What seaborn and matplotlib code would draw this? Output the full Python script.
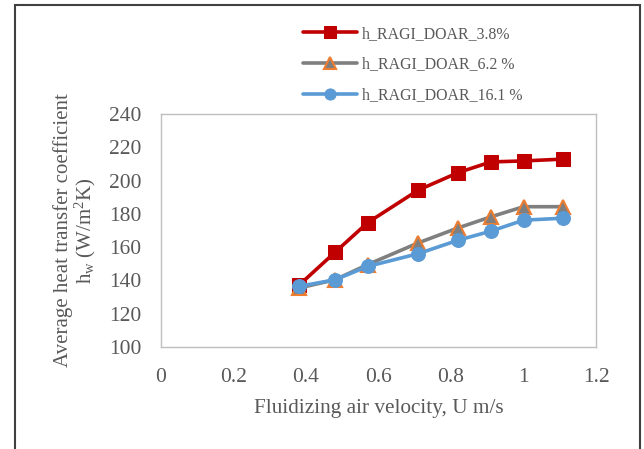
import matplotlib
matplotlib.use("Agg")
import matplotlib.pyplot as plt
import seaborn as sns
import pandas as pd
from matplotlib.patches import Rectangle

velocity = [0.38, 0.48, 0.57, 0.71, 0.82, 0.91, 1.00, 1.11]
h_38 = [137.0, 156.9, 174.7, 194.3, 204.8, 211.2, 211.8, 212.9]
h_62 = [135.4, 140.4, 149.5, 162.6, 171.6, 178.2, 184.3, 184.3]
h_161 = [136.4, 140.4, 148.4, 156.1, 164.2, 169.6, 176.2, 177.4]
labels = ["h_RAGI_DOAR_3.8%", "h_RAGI_DOAR_6.2 %", "h_RAGI_DOAR_16.1 %"]
xticks = [0, 0.2, 0.4, 0.6, 0.8, 1, 1.2]
yticks = [100, 120, 140, 160, 180, 200, 220, 240]

sns.set_theme(style="white")
plt.rcParams["font.family"] = ["Liberation Serif", "DejaVu Serif"]
plt.rcParams["mathtext.default"] = "regular"

fig = plt.figure(figsize=(6.44, 4.49), dpi=100)
ax = fig.add_axes([161/644, 1-347/449, 435/644, 233/449])

styles = [
    dict(color="#C00000", marker="s", markersize=10, markerfacecolor="#C00000", markeredgecolor="#C00000"),
    dict(color="#7F7F7F", marker="^", markersize=10, markerfacecolor="#7F7F7F", markeredgecolor="#ED7D31", markeredgewidth=1.5),
    dict(color="#5B9BD5", marker="o", markersize=10, markerfacecolor="#5B9BD5", markeredgecolor="#5B9BD5"),
]
for vals, lab, st in zip([h_38, h_62, h_161], labels, styles):
    df = pd.DataFrame({"U": velocity, "h": vals})
    sns.lineplot(data=df, x="U", y="h", ax=ax, label=lab, linewidth=2.6, **st)

ax.set_xlim(0, 1.2)
ax.set_ylim(100, 240)
ax.set_xticks(xticks)
ax.set_xticklabels([f"{t:g}" for t in xticks])
ax.set_yticks(yticks)
ax.tick_params(axis="both", length=0, labelsize=15.5, labelcolor="#595959")
ax.tick_params(axis="x", pad=15)
ax.tick_params(axis="y", pad=14)
for s in ax.spines.values():
    s.set_color("#BFBFBF")
    s.set_linewidth(1.0)
ax.set_xlabel("Fluidizing air velocity, U m/s", fontsize=15.3, color="#595959", labelpad=9)
ax.set_ylabel("Average heat transfer coefficient\nh$_{w}$ (W/m$^{2}$K)", fontsize=15,
              color="#595959", labelpad=8, multialignment="center", linespacing=1.0)

handles, labs = ax.get_legend_handles_labels()
ax.get_legend().remove()
fig.legend(handles, labs, loc="upper left", bbox_to_anchor=(303/644, 1-26/449),
           frameon=False, fontsize=11.4, labelcolor="#595959", handlelength=3.4,
           handletextpad=0.3, labelspacing=0.92, borderpad=0, borderaxespad=0,
           markerscale=0.8)

fig.patches.append(Rectangle((14.5/644, -0.05), (640-14.5)/644, 1.05-5.5/449,
                             transform=fig.transFigure, fill=False,
                             edgecolor="#404040", linewidth=1.5))
fig.savefig("out.png", dpi=100)
